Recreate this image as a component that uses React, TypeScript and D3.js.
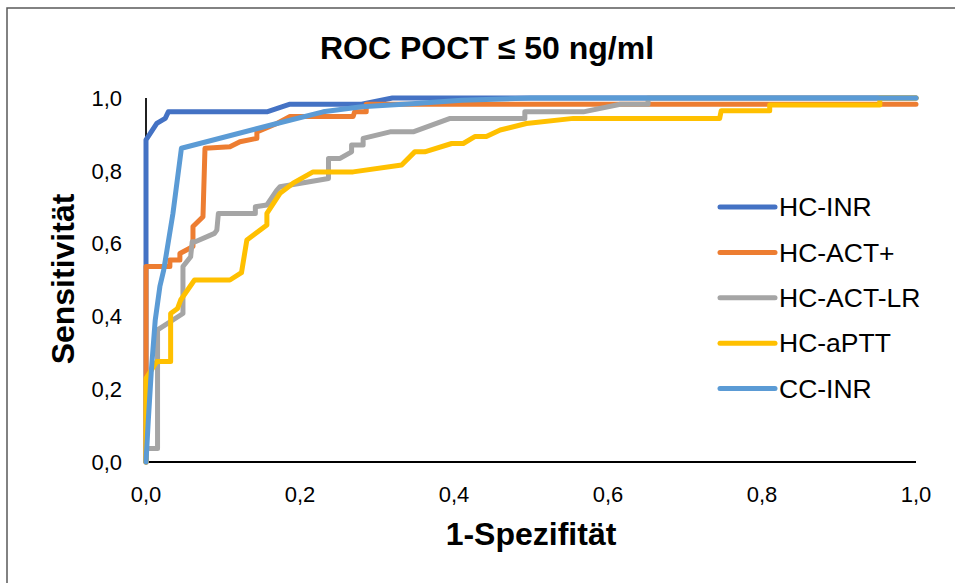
import React from "react";
import * as d3 from "d3";

const TITLE = "ROC POCT ≤ 50 ng/ml";
const X_LABEL = "1-Spezifität";
const Y_LABEL = "Sensitivität";
const TICKS = [0, 0.2, 0.4, 0.6, 0.8, 1.0];

const SERIES_NAMES = ["HC-INR", "HC-ACT+", "HC-ACT-LR", "HC-aPTT", "CC-INR"];
const SERIES_COLORS = ["#4472C4", "#ED7D31", "#A5A5A5", "#FFC000", "#5B9BD5"];

const HC_INR_X = [0, 0, 0.014, 0.025, 0.029, 0.157, 0.187, 0.28, 0.32, 1];
const HC_INR_Y = [0, 0.885, 0.93, 0.944, 0.962, 0.962, 0.983, 0.983, 1.0, 1];

const HC_ACT_PLUS_X = [0, 0, 0.031, 0.031, 0.044, 0.044, 0.061, 0.061, 0.074, 0.0766, 0.109, 0.122, 0.144, 0.144, 0.17, 0.187, 0.269, 0.271, 0.286, 0.286, 1];
const HC_ACT_PLUS_Y = [0, 0.537, 0.537, 0.555, 0.555, 0.573, 0.592, 0.647, 0.674, 0.862, 0.866, 0.88, 0.889, 0.907, 0.93, 0.949, 0.949, 0.962, 0.962, 0.983, 0.983];

const HC_ACT_LR_X = [0, 0, 0.015, 0.015, 0.048, 0.048, 0.058, 0.06, 0.064, 0.089, 0.092, 0.094, 0.142, 0.142, 0.157, 0.17, 0.174, 0.237, 0.237, 0.252, 0.267, 0.267, 0.282, 0.282, 0.317, 0.347, 0.395, 0.492, 0.492, 0.568, 0.616, 0.652, 0.652, 1];
const HC_ACT_LR_Y = [0, 0.037, 0.037, 0.363, 0.408, 0.537, 0.564, 0.605, 0.605, 0.628, 0.637, 0.683, 0.683, 0.701, 0.706, 0.747, 0.756, 0.779, 0.834, 0.834, 0.852, 0.871, 0.871, 0.889, 0.907, 0.907, 0.944, 0.944, 0.962, 0.962, 0.983, 0.983, 1, 1];

const HC_APTT_X = [0, 0, 0.014, 0.032, 0.032, 0.041, 0.045, 0.063, 0.109, 0.124, 0.131, 0.157, 0.157, 0.174, 0.191, 0.217, 0.269, 0.332, 0.349, 0.362, 0.397, 0.412, 0.427, 0.442, 0.46, 0.494, 0.555, 0.745, 0.747, 0.81, 0.81, 0.953, 0.953, 1];
const HC_APTT_Y = [0, 0.23, 0.276, 0.276, 0.408, 0.422, 0.445, 0.5, 0.5, 0.52, 0.61, 0.651, 0.683, 0.738, 0.766, 0.797, 0.797, 0.816, 0.852, 0.852, 0.875, 0.875, 0.894, 0.894, 0.912, 0.93, 0.944, 0.944, 0.965, 0.965, 0.981, 0.981, 1, 1];

const CC_INR_X = [0, 0.003, 0.007, 0.012, 0.018, 0.023, 0.035, 0.046, 0.17, 0.23, 0.28, 0.35, 0.41, 0.5, 1];
const CC_INR_Y = [0, 0.115, 0.253, 0.39, 0.482, 0.527, 0.683, 0.862, 0.93, 0.962, 0.976, 0.985, 0.994, 1, 1];

const SERIES_X = [HC_INR_X, HC_ACT_PLUS_X, HC_ACT_LR_X, HC_APTT_X, CC_INR_X];
const SERIES_Y = [HC_INR_Y, HC_ACT_PLUS_Y, HC_ACT_LR_Y, HC_APTT_Y, CC_INR_Y];

const FONT = "'Liberation Sans', Arial, sans-serif";
const fmt = (v: number) => v.toFixed(1).replace(".", ",");

export default function App() {
  const W = 955;
  const H = 583;
  const x = d3.scaleLinear().domain([0, 1]).range([146, 916]);
  const y = d3.scaleLinear().domain([0, 1]).range([462, 98]);
  const line = d3
    .line<[number, number]>()
    .x((d) => x(d[0]))
    .y((d) => y(d[1]));

  const legendX = 720;
  const legendY0 = 207;
  const legendStep = 45.4;

  return (
    <svg
      width={W}
      height={H}
      style={{ position: "absolute", left: 0, top: 0, background: "#fff" }}
    >
      <rect x={0} y={0} width={W} height={H} fill="#fff" />
      <rect x={7} y={8} width={1000} height={700} fill="none" stroke="#595959" strokeWidth={1.5} />
      <text
        x={487}
        y={59}
        textAnchor="middle"
        fontFamily={FONT}
        fontWeight="bold"
        fontSize={32}
        fill="#000"
      >
        {TITLE}
      </text>

      {TICKS.map((t) => (
        <text
          key={"y" + t}
          x={122}
          y={y(t)}
          dy="0.35em"
          textAnchor="end"
          fontFamily={FONT}
          fontSize={22}
          fill="#000"
        >
          {fmt(t)}
        </text>
      ))}
      {TICKS.map((t) => (
        <text
          key={"x" + t}
          x={x(t)}
          y={494}
          dy="0.35em"
          textAnchor="middle"
          fontFamily={FONT}
          fontSize={22}
          fill="#000"
        >
          {fmt(t)}
        </text>
      ))}

      <line x1={x(0)} x2={x(0)} y1={y(1)} y2={y(0)} stroke="#000" strokeWidth={1.75} />
      <line x1={x(0)} x2={x(1)} y1={y(0)} y2={y(0)} stroke="#000" strokeWidth={2} />

      {SERIES_NAMES.map((name, i) => {
        const pts: [number, number][] = SERIES_X[i].map((v, j) => [v, SERIES_Y[i][j]]);
        return (
          <path
            key={name}
            d={line(pts) || ""}
            fill="none"
            stroke={SERIES_COLORS[i]}
            strokeWidth={5}
            strokeLinejoin="round"
            strokeLinecap="round"
          />
        );
      })}

      <text
        x={531}
        y={545}
        textAnchor="middle"
        fontFamily={FONT}
        fontWeight="bold"
        fontSize={32}
        fill="#000"
      >
        {X_LABEL}
      </text>
      <text
        transform={`translate(73.5,279) rotate(-90)`}
        textAnchor="middle"
        fontFamily={FONT}
        fontWeight="bold"
        fontSize={32}
        fill="#000"
      >
        {Y_LABEL}
      </text>

      {SERIES_NAMES.map((name, i) => (
        <g key={"leg" + name} transform={`translate(${legendX},${legendY0 + i * legendStep})`}>
          <line x1={0} x2={55} y1={0} y2={0} stroke={SERIES_COLORS[i]} strokeWidth={5} strokeLinecap="round" />
          <text x={59} y={0} dy="0.35em" fontFamily={FONT} fontSize={26.5} fill="#000">
            {name}
          </text>
        </g>
      ))}
    </svg>
  );
}
